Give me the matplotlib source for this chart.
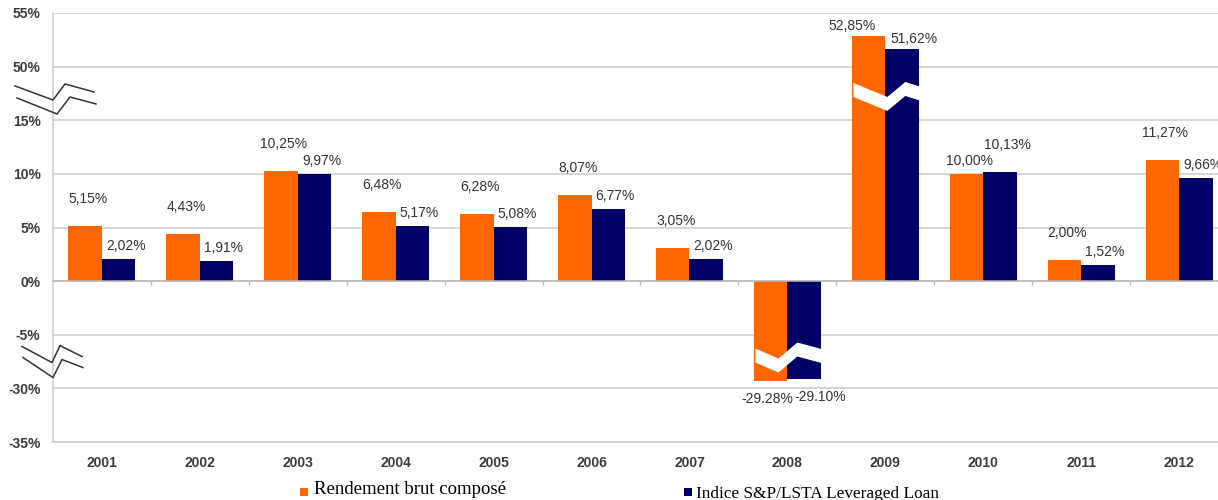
import numpy as np
import matplotlib
matplotlib.use("Agg")
import matplotlib.pyplot as plt
from matplotlib.patches import Polygon, Rectangle
from matplotlib.lines import Line2D
from matplotlib.transforms import IdentityTransform

# ---------------- data ----------------
years = ["2001", "2002", "2003", "2004", "2005", "2006",
         "2007", "2008", "2009", "2010", "2011", "2012"]
rendement = [5.15, 4.43, 10.25, 6.48, 6.28, 8.07, 3.05, -29.28, 52.85, 10.00, 2.00, 11.27]
indice = [2.02, 1.91, 9.97, 5.17, 5.08, 6.77, 2.02, -29.10, 51.62, 10.13, 1.52, 9.66]
ytick_values = [-35, -30, -5, 0, 5, 10, 15, 50, 55]
legend_labels = ["Rendement brut composé", "Indice S&P/LSTA Leveraged Loan"]
axis_gaps = [(-30, -5), (15, 50)]          # tick pairs with a cut between them

# ---------------- style ----------------
ORANGE = "#FF6600"
NAVY = "#000066"
GRID = "#cccccc"
TXT = "#333333"
TICK_TXT = "#3c3c3c"
SANS = ["Liberation Sans", "DejaVu Sans"]
SERIF = ["Liberation Serif", "DejaVu Serif"]

W, H = 1218, 500
fig = plt.figure(figsize=(W / 100, H / 100), dpi=100)
ax = fig.add_axes([53 / W, (H - 442) / H, 1175 / W, 429 / H])

# broken-axis scale: each gap shown as 5 units, cut in its middle
GAP_UNITS = 5.0
EPS = 0.05
(ba, bb), (ta, tb) = axis_gaps
low_shift = (bb - ba) - GAP_UNITS          # values below the lower cut move up
high_shift = (tb - ta) - GAP_UNITS         # values above the upper cut move down
low_cut = bb - GAP_UNITS / 2               # scaled position of lower cut
high_cut = ta + GAP_UNITS / 2              # scaled position of upper cut
DATA_KNOTS = [-1000, low_cut - low_shift - EPS, low_cut + EPS,
              high_cut - EPS, high_cut + high_shift + EPS, 1000]
SCALED_KNOTS = [-1000 + low_shift, low_cut - EPS, low_cut + EPS,
                high_cut - EPS, high_cut + EPS, 1000 - high_shift]


def fwd(v):
    return np.interp(v, DATA_KNOTS, SCALED_KNOTS)


def inv(v):
    return np.interp(v, SCALED_KNOTS, DATA_KNOTS)


ax.set_yscale("function", functions=(fwd, inv))
ax.set_ylim(-35, 55)
ax.set_xlim(-0.5, len(years) - 0.5)

x = np.arange(len(years))
bw = 0.342
ax.bar(x - bw / 2, rendement, bw, color=ORANGE, zorder=2)
ax.bar(x + bw / 2, indice, bw, color=NAVY, zorder=2)

# y axis
ax.set_yticks(ytick_values)
ax.set_yticklabels([f"{v}%" for v in ytick_values])
ax.yaxis.grid(True, color=GRID, lw=1.1)
ax.set_axisbelow(True)
ax.tick_params(axis="y", length=0, pad=9, labelsize=10, labelcolor=TICK_TXT)
for lab in ax.get_yticklabels():
    lab.set_family(SANS)
    lab.set_fontweight("bold")

# spines
ax.spines["top"].set_visible(False)
ax.spines["right"].set_visible(False)
ax.spines["left"].set_color(GRID)
ax.spines["left"].set_linewidth(1.1)
ax.spines["bottom"].set_position(("data", 0))
ax.spines["bottom"].set_color("#b8b8b8")
ax.spines["bottom"].set_linewidth(1.1)

ax.set_xticks(x)
ax.tick_params(axis="x", which="major", length=0, labelbottom=False)
ax.set_xticks(np.arange(0.5, len(years) - 0.5, 1), minor=True)
ax.tick_params(axis="x", which="minor", length=3, width=1, color="#b8b8b8")

sec = ax.secondary_xaxis("bottom")
sec.set_xticks(x)
sec.set_xticklabels(years)
sec.tick_params(length=0, pad=10, labelsize=10, labelcolor=TICK_TXT)
sec.spines["bottom"].set_color(GRID)
sec.spines["bottom"].set_linewidth(1.1)
for lab in sec.get_xticklabels():
    lab.set_family(SANS)
    lab.set_fontweight("bold")

# data labels: the taller bar of a pair gets the higher label
DX = {"o": {"pos": 3, "neg": -3, "top": -16}, "n": {"pos": 7, "neg": 16, "top": 12}}
DY_TALL, DY_SHORT, DY_TOP, DY_NEG = 27, 13, 10, -18


def fmt(v):
    s = f"{v:.2f}%"
    return s if v < 0 else s.replace(".", ",")


for xi, vo, vn in zip(x, rendement, indice):
    for key, v, other, shift in (("o", vo, vn, -bw / 2), ("n", vn, vo, bw / 2)):
        if v < 0:
            kind, dy = "neg", DY_NEG
        elif fwd(v) > 20:
            kind, dy = "top", DY_TOP
        else:
            kind = "pos"
            dy = DY_TALL if v >= other else DY_SHORT
        ax.annotate(fmt(v), (xi + shift, v), xytext=(DX[key][kind], dy),
                    textcoords="offset pixels", ha="center", va="center",
                    fontsize=10, color=TXT, family=SANS, zorder=5,
                    annotation_clip=False)


def disp(xd, yd):
    return ax.transData.transform((xd, yd))


# axis break markers (pixel offsets, image orientation: +y downward)
AXIS_BREAK_SHAPES = [
    ([(-31, -14.5), (-1, 1.5), (7, -15.5), (29, -4.5)], [(-30, -3.5), (0, 16.5), (9, -1.5), (30, 6.5)]),
    ([(-38, -8), (0, 6), (12, -10), (41, -2)], [(-36, 4), (4, 20), (17, 3), (43, 10)]),
]
BAR_BREAK_SHAPES = [
    [(-32, -12.5), (-9, -2.5), (10, -18.5), (36, -11.5)],
    [(-32, -11), (2, 3), (20, -12), (36, -7)],
]
BAND = 14

x0_disp = disp(-0.5, 0)[0]
cuts = [(low_cut, lambda v: v < low_cut - low_shift),
        (high_cut, lambda v: v > high_cut + high_shift)]
for (cut, beyond), (up, low), bshape in zip(cuts, AXIS_BREAK_SHAPES, BAR_BREAK_SHAPES):
    yc = disp(0, cut)[1]
    for pts in (up, low):
        xs = [x0_disp + px for px, py in pts]
        ys = [yc - py for px, py in pts]
        fig.add_artist(Line2D(xs, ys, transform=IdentityTransform(),
                              color="#333333", lw=1.1, zorder=10))
    # white band across bars crossing the cut
    for xi, vo, vn in zip(x, rendement, indice):
        if beyond(vo) or beyond(vn):
            xc = disp(xi, 0)[0]
            upper = [(xc + px, yc - py) for px, py in bshape]
            lower = [(xc + px, yc - py - BAND) for px, py in bshape][::-1]
            fig.add_artist(Polygon(upper + lower, closed=True,
                                   transform=IdentityTransform(),
                                   facecolor="white", edgecolor="none", zorder=4))

# legend (manual, two entries far apart)
for (mx, tx, ty, fs), col, lab in zip([(300, 314, 494, 13.5), (684, 696, 498, 12.4)],
                                      [ORANGE, NAVY], legend_labels):
    fig.add_artist(Rectangle((mx, H - 496), 8, 8, transform=IdentityTransform(),
                             facecolor=col, edgecolor="none"))
    fig.text(tx / W, (H - ty) / H, lab, fontsize=fs, family=SERIF,
             color="black", va="baseline", ha="left")

fig.savefig("out.png", dpi=100)
